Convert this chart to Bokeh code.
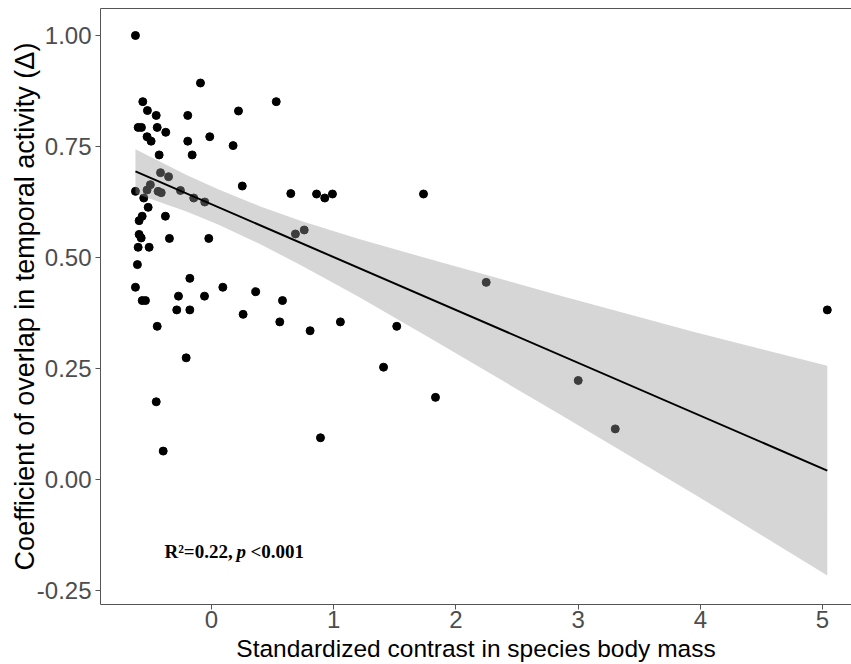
from bokeh.plotting import figure
from bokeh.models import (ColumnDataSource, Range1d, FixedTicker, LinearAxis, Label)
from bokeh.embed import file_html
from bokeh.resources import INLINE

# ---- data ----
x_vals = [-0.622, -0.090, -0.562, 0.530, -0.524, -0.452, -0.194, 0.221, -0.600, -0.573,
          -0.444, -0.374, -0.527, -0.494, -0.194, -0.014, 0.177, -0.428, -0.158, -0.417,
          -0.351, 0.252, 0.649, -0.622, -0.500, -0.527, -0.437, -0.411, -0.254, -0.145,
          -0.055, -0.554, -0.518, -0.567, -0.377, -0.592, -0.592, -0.575, -0.344, -0.022,
          0.687, 0.759, -0.600, -0.510, -0.606, -0.177, -0.622, 0.093, 0.362, -0.567,
          -0.540, -0.270, -0.057, 0.581, -0.284, -0.177, 0.259, 0.559, -0.444, -0.207,
          -0.452, -0.395, 0.860, 0.927, 0.990, 1.735, 2.248, 0.807, 1.055, 1.516,
          1.408, 1.833, 0.892, 3.001, 5.039, 3.304]
y_vals = [1.000, 0.893, 0.851, 0.851, 0.831, 0.820, 0.820, 0.830, 0.793, 0.793,
          0.793, 0.782, 0.772, 0.762, 0.762, 0.772, 0.752, 0.731, 0.731, 0.691,
          0.682, 0.661, 0.644, 0.649, 0.664, 0.652, 0.649, 0.646, 0.651, 0.634,
          0.625, 0.634, 0.613, 0.593, 0.593, 0.583, 0.552, 0.544, 0.543, 0.543,
          0.553, 0.562, 0.523, 0.523, 0.484, 0.453, 0.433, 0.433, 0.423, 0.403,
          0.403, 0.413, 0.413, 0.403, 0.382, 0.382, 0.372, 0.355, 0.345, 0.274,
          0.175, 0.064, 0.643, 0.634, 0.643, 0.643, 0.444, 0.335, 0.355, 0.345,
          0.253, 0.185, 0.094, 0.223, 0.382, 0.114]

fit_x = [-0.622, 5.039]
fit_y = [0.694, 0.020]

band_x = [-0.622, -0.2, 0.05, 0.4, 0.728, 1.2, 1.79, 2.856, 3.95, 5.039]
band_upper = [0.744, 0.685, 0.654, 0.615, 0.583, 0.542, 0.496, 0.414, 0.332, 0.256]
band_lower = [0.644, 0.603, 0.575, 0.530, 0.483, 0.412, 0.318, 0.146, -0.033, -0.216]

x_ticks = [0, 1, 2, 3, 4, 5]
x_tick_labels = ["0", "1", "2", "3", "4", "5"]
y_ticks = [-0.25, 0.0, 0.25, 0.5, 0.75, 1.0]
y_tick_labels = ["-0.25", "0.00", "0.25", "0.50", "0.75", "1.00"]

x_title = "Standardized contrast in species body mass"
y_title = "Coefficient of overlap in temporal activity (\u0394)"

# ---- figure ----
BORDER = "#555555"
p = figure(width=851, height=664, output_backend="svg", toolbar_location=None,
           x_range=Range1d(-0.908, 5.237), y_range=Range1d(-0.2815, 1.0608),
           x_axis_location=None, y_axis_location=None,
           min_border_left=100, min_border_right=0, min_border_top=8, min_border_bottom=60)
p.outline_line_color = None
p.xgrid.visible = False
p.ygrid.visible = False
p.background_fill_color = "white"

def style_axis(ax, ticks, labels):
    ax.ticker = FixedTicker(ticks=ticks)
    ax.major_label_overrides = {t: l for t, l in zip(ticks, labels)}
    ax.axis_line_color = BORDER
    ax.axis_line_width = 1
    ax.major_tick_line_color = BORDER
    ax.major_tick_out = 5
    ax.major_tick_in = 0
    ax.minor_tick_line_color = None
    ax.major_label_text_font = "Liberation Sans"
    ax.major_label_text_font_size = "24px"
    ax.major_label_text_color = "#4D4D4D"
    ax.axis_label_text_font = "Liberation Sans"
    ax.axis_label_text_font_style = "normal"
    ax.axis_label_text_color = "black"

xax = LinearAxis(axis_label=x_title)
style_axis(xax, x_ticks, x_tick_labels)
xax.axis_label_text_font_size = "24.5px"
xax.major_label_standoff = 1
xax.axis_label_standoff = 4
p.add_layout(xax, "below")

yax = LinearAxis(axis_label=y_title)
style_axis(yax, y_ticks, y_tick_labels)
yax.axis_label_text_font_size = "27px"
yax.major_label_standoff = 4
yax.axis_label_standoff = -6
p.add_layout(yax, "left")

top = LinearAxis(ticker=FixedTicker(ticks=[]))
top.axis_line_color = BORDER
top.major_tick_line_color = None
top.minor_tick_line_color = None
top.major_tick_out = 0
top.major_label_standoff = 0
top.major_label_text_font_size = "0px"
p.add_layout(top, "above")

# points first, then translucent ribbon, then fitted line
p.scatter(x_vals, y_vals, size=8, color="black")

band_src = ColumnDataSource(dict(x=band_x, lower=band_lower, upper=band_upper))
p.varea(x="x", y1="lower", y2="upper", source=band_src,
        fill_color="#999999", fill_alpha=0.4)
p.line(fit_x, fit_y, line_color="black", line_width=2)

# annotation: R²=0.22, p <0.001  (p in italics)
ann_x, ann_y = -0.385, -0.162
common = dict(x=ann_x, y=ann_y, text_font="Liberation Serif", text_font_size="19px",
              text_color="black", text_baseline="alphabetic")
p.add_layout(Label(text="R\u00b2=0.22,", text_font_style="bold", **common))
p.add_layout(Label(text="p", text_font_style="bold italic", x_offset=72, **common))
p.add_layout(Label(text="<0.001", text_font_style="bold", x_offset=86, **common))

open("out.html", "w").write(file_html(p, INLINE))
